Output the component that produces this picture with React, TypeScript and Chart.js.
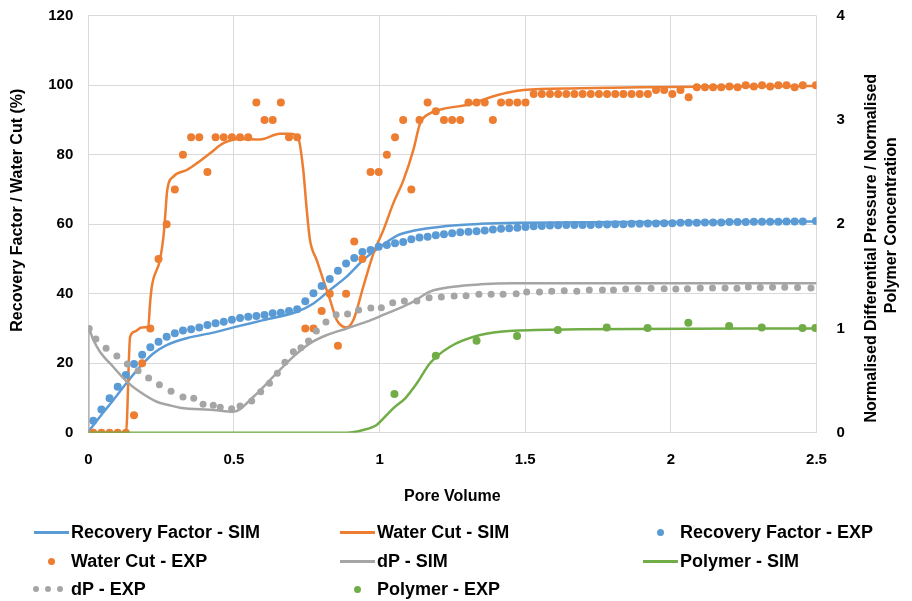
import React, { useEffect, useRef } from "react";
import { Chart, registerables } from "chart.js";

Chart.register(...registerables);

const FONT = '"Liberation Sans", Arial, sans-serif';
const BLUE = "#5B9BD5";
const ORANGE = "#ED7D31";
const GREY = "#A5A5A5";
const GREEN = "#70AD47";

// Tick labels
const xTicks = [0, 0.5, 1, 1.5, 2, 2.5];
const xTickLabels = ["0", "0.5", "1", "1.5", "2", "2.5"];
const yTicks = [0, 20, 40, 60, 80, 100, 120];
const y2Ticks = [0, 1, 2, 3, 4];

// Experimental sampling points (pore volume) for Recovery Factor / Water Cut
const expPV = [
  0.017, 0.045, 0.073, 0.101, 0.129, 0.157, 0.185, 0.213, 0.241, 0.269,
  0.297, 0.325, 0.353, 0.381, 0.409, 0.437, 0.465, 0.493, 0.521, 0.549,
  0.577, 0.605, 0.633, 0.661, 0.689, 0.717, 0.745, 0.773, 0.801, 0.829,
  0.857, 0.885, 0.913, 0.941, 0.969, 0.997, 1.025, 1.053, 1.081, 1.109,
  1.137, 1.165, 1.193, 1.221, 1.249, 1.277, 1.305, 1.333, 1.361, 1.389,
  1.417, 1.445, 1.473, 1.501, 1.529, 1.557, 1.585, 1.613, 1.641, 1.669,
  1.697, 1.725, 1.753, 1.781, 1.809, 1.837, 1.865, 1.893, 1.921, 1.949,
  1.977, 2.005, 2.033, 2.061, 2.089, 2.117, 2.145, 2.173, 2.201, 2.229,
  2.257, 2.285, 2.313, 2.341, 2.369, 2.397, 2.425, 2.453, 2.498,
];
const rfExp = [
  3.45, 6.7, 9.9, 13.25, 16.6, 19.8, 22.4, 24.6, 26.2, 27.6,
  28.6, 29.4, 29.8, 30.3, 31.0, 31.5, 31.95, 32.5, 33.0, 33.4,
  33.6, 33.9, 34.35, 34.5, 35.0, 35.5, 37.8, 40.1, 42.2, 44.2,
  46.6, 48.7, 50.3, 52.0, 52.6, 53.5, 54.0, 54.5, 54.9, 55.7,
  56.2, 56.4, 56.8, 57.1, 57.4, 57.7, 57.8, 58.0, 58.2, 58.5,
  58.7, 58.8, 59.0, 59.2, 59.4, 59.5, 59.6, 59.7, 59.8, 59.8,
  59.8, 59.8, 59.9, 59.9, 60.0, 60.0, 60.1, 60.1, 60.2, 60.2,
  60.3, 60.3, 60.4, 60.4, 60.4, 60.5, 60.5, 60.5, 60.6, 60.6,
  60.6, 60.7, 60.7, 60.7, 60.7, 60.8, 60.8, 60.8, 60.9,
];
const wcExp = [
  0, 0, 0, 0, 0, 5, 20, 30, 50, 60,
  70, 80, 85, 85, 75, 85, 85, 85, 85, 85,
  95, 90, 90, 95, 85, 85, 30, 30, 35, 40,
  25, 40, 55, 50, 75, 75, 80, 85, 90, 70,
  90, 95, 92.5, 90, 90, 90, 95, 95, 95, 90,
  95, 95, 95, 95, 97.5, 97.5, 97.5, 97.5, 97.5, 97.5,
  97.5, 97.5, 97.5, 97.5, 97.5, 97.5, 97.5, 97.5, 97.5, 98.6,
  98.6, 97.5, 98.6, 96.5, 99.4, 99.4, 99.4, 99.4, 99.6, 99.4,
  100, 99.6, 100, 99.6, 100, 100, 99.4, 100, 100,
];

// Simulated recovery factor
const rfSimPV = [0, 0.04, 0.086, 0.132, 0.178, 0.223, 0.269, 0.338, 0.429, 0.498, 0.601, 0.716, 0.773, 0.83, 0.887, 0.944, 1.002, 1.062, 1.116, 1.231, 1.345, 1.494, 1.8, 2.2, 2.5];
const rfSim = [0.3, 4.6, 9.4, 14.4, 19.0, 22.8, 25.2, 27.2, 28.8, 30.3, 32.4, 34.8, 37.2, 41.1, 44.9, 49.7, 53.5, 56.8, 58.1, 59.5, 60.1, 60.4, 60.6, 60.7, 60.8];

// Simulated water cut
const wcSimPV = [0, 0.1295, 0.1435, 0.16, 0.183, 0.206, 0.212, 0.218, 0.246, 0.258, 0.263, 0.271, 0.292, 0.338, 0.372, 0.418, 0.464, 0.521, 0.59, 0.658, 0.693, 0.721, 0.738, 0.75, 0.761, 0.784, 0.807, 0.83, 0.853, 0.887, 0.91, 0.944, 0.979, 1.013, 1.047, 1.082, 1.116, 1.139, 1.173, 1.231, 1.299, 1.368, 1.437, 1.494, 1.689, 1.9, 2.5];
const wcSim = [0, 0, 27.6, 29.1, 30.3, 30.5, 37.2, 42, 49.7, 56.4, 61.2, 69.8, 73.7, 75.6, 77.5, 80.4, 83.3, 84.5, 84.4, 86.0, 86.0, 84.7, 75.6, 64.1, 55.5, 49.7, 43.9, 38.2, 32.4, 30.3, 32.4, 42.0, 51.6, 58.3, 66.0, 72.7, 81.4, 89.0, 91.9, 93.4, 94.3, 96.2, 97.8, 98.6, 99.1, 99.4, 99.8];

// Simulated normalised differential pressure
const dpSimPV = [0, 0, 0.0172, 0.04, 0.086, 0.132, 0.178, 0.235, 0.275, 0.315, 0.429, 0.498, 0.567, 0.635, 0.704, 0.761, 0.819, 0.887, 0.956, 1.025, 1.065, 1.116, 1.173, 1.253, 1.345, 1.46, 2.5];
const dpSim = [0, 1.0, 0.889, 0.777, 0.63, 0.49, 0.39, 0.297, 0.266, 0.24, 0.218, 0.2, 0.345, 0.537, 0.73, 0.857, 0.937, 1.0, 1.065, 1.145, 1.19, 1.257, 1.353, 1.4, 1.423, 1.433, 1.433];

// Simulated normalised polymer concentration
const polySimPV = [0, 0.887, 0.944, 0.99, 1.002, 1.047, 1.088, 1.128, 1.173, 1.242, 1.345, 1.46, 1.689, 2.5];
const polySim = [0, 0, 0.026, 0.074, 0.105, 0.234, 0.33, 0.474, 0.666, 0.825, 0.937, 0.978, 0.992, 1.0];

// Experimental normalised differential pressure
const dpExpPV = [
  0.003, 0.026, 0.061, 0.098, 0.134, 0.171, 0.207, 0.244, 0.284, 0.325, 0.362,
  0.394, 0.429, 0.453, 0.492, 0.521, 0.561, 0.592, 0.622, 0.649, 0.675,
  0.704, 0.730, 0.756, 0.783, 0.816, 0.851, 0.890, 0.928, 0.970, 1.006, 1.045,
  1.085, 1.128, 1.170, 1.212, 1.256, 1.297, 1.341, 1.383, 1.424, 1.469,
  1.505, 1.549, 1.591, 1.634, 1.677, 1.720, 1.765, 1.803, 1.845, 1.887,
  1.932, 1.977, 2.017, 2.057, 2.101, 2.143, 2.186, 2.227, 2.266, 2.307,
  2.349, 2.391, 2.435, 2.481,
];
const dpExp = [
  1.0, 0.899, 0.81, 0.736, 0.659, 0.595, 0.525, 0.46, 0.397, 0.342, 0.33,
  0.272, 0.263, 0.244, 0.23, 0.256, 0.304, 0.393, 0.474, 0.57, 0.675,
  0.777, 0.815, 0.88, 0.976, 1.062, 1.132, 1.139, 1.177, 1.196, 1.199, 1.247,
  1.263, 1.263, 1.295, 1.302, 1.311, 1.314, 1.327, 1.327, 1.327, 1.333,
  1.35, 1.35, 1.357, 1.362, 1.357, 1.369, 1.369, 1.369, 1.378, 1.382,
  1.385, 1.382, 1.378, 1.382, 1.388, 1.388, 1.388, 1.385, 1.398, 1.392,
  1.395, 1.395, 1.392, 1.388,
];

// Experimental normalised polymer concentration
const polyExpPV = [1.051, 1.193, 1.333, 1.472, 1.612, 1.78, 1.92, 2.06, 2.2, 2.312, 2.452, 2.496];
const polyExp = [0.371, 0.739, 0.883, 0.927, 0.985, 1.01, 1.004, 1.055, 1.024, 1.01, 1.004, 1.004];

const pts = (xs: number[], ys: number[]) => xs.map((x, i) => ({ x, y: ys[i] }));

type LegendItem = { label: string; color: string; kind: "line" | "dot" | "dots"; col: number; row: number };
const legendItems: LegendItem[] = [
  { label: "Recovery Factor - SIM", color: BLUE, kind: "line", col: 0, row: 0 },
  { label: "Water Cut - SIM", color: ORANGE, kind: "line", col: 1, row: 0 },
  { label: "Recovery Factor - EXP", color: BLUE, kind: "dot", col: 2, row: 0 },
  { label: "Water Cut - EXP", color: ORANGE, kind: "dot", col: 0, row: 1 },
  { label: "dP - SIM", color: GREY, kind: "line", col: 1, row: 1 },
  { label: "Polymer - SIM", color: GREEN, kind: "line", col: 2, row: 1 },
  { label: "dP - EXP", color: GREY, kind: "dots", col: 0, row: 2 },
  { label: "Polymer - EXP", color: GREEN, kind: "dot", col: 1, row: 2 },
];
const legendColX = [34, 340, 643];
const legendRowY = [532, 561, 589];

const titlesPlugin = {
  id: "axisTitles",
  afterDraw(chart: any) {
    const { ctx, chartArea: a } = chart;
    ctx.save();
    ctx.fillStyle = "#000";
    ctx.font = `bold 16px ${FONT}`;
    ctx.textAlign = "center";
    ctx.textBaseline = "middle";
    const cy = (a.top + a.bottom) / 2;
    ctx.fillText("Pore Volume", (a.left + a.right) / 2, a.bottom + 64);
    ctx.save();
    ctx.translate(a.left - 71, cy - 14);
    ctx.rotate(-Math.PI / 2);
    ctx.fillText("Recovery Factor / Water Cut (%)", 0, 0);
    ctx.restore();
    ctx.save();
    ctx.translate(a.right + 55, cy + 24);
    ctx.rotate(-Math.PI / 2);
    ctx.fillText("Normalised Differential Pressure / Normalised", 0, 0);
    ctx.restore();
    ctx.save();
    ctx.translate(a.right + 75, cy + 1);
    ctx.rotate(-Math.PI / 2);
    ctx.fillText("Polymer Concentration", 0, 0);
    ctx.restore();
    ctx.restore();
  },
};

function simSet(label: string, data: any[], color: string, axis: string, order: number) {
  return {
    label,
    data,
    showLine: true,
    borderColor: color,
    backgroundColor: color,
    borderWidth: 2.5,
    pointRadius: 0,
    cubicInterpolationMode: "monotone" as const,
    fill: false,
    yAxisID: axis,
    order,
  };
}
function expSet(label: string, data: any[], color: string, axis: string, order: number, r = 4) {
  return {
    label,
    data,
    showLine: false,
    borderColor: color,
    backgroundColor: color,
    pointBackgroundColor: color,
    pointBorderWidth: 0,
    pointRadius: r,
    yAxisID: axis,
    order,
  };
}

export default function App() {
  const ref = useRef<HTMLCanvasElement>(null);
  useEffect(() => {
    if (!ref.current) return;
    const tickFont = { family: FONT, size: 15, weight: "bold" as const };
    const fitY = (w: number) => (s: any) => {
      s.width = w;
      s.paddingTop = 0;
      s.paddingBottom = 0;
    };
    const chart = new Chart(ref.current, {
      type: "scatter",
      data: {
        datasets: [
          simSet("Recovery Factor - SIM", pts(rfSimPV, rfSim), BLUE, "y", 8),
          simSet("Water Cut - SIM", pts(wcSimPV, wcSim), ORANGE, "y", 7),
          expSet("Recovery Factor - EXP", pts(expPV, rfExp), BLUE, "y", 6),
          expSet("Water Cut - EXP", pts(expPV, wcExp), ORANGE, "y", 5),
          simSet("dP - SIM", pts(dpSimPV, dpSim), GREY, "y2", 4),
          simSet("Polymer - SIM", pts(polySimPV, polySim), GREEN, "y2", 3),
          expSet("dP - EXP", pts(dpExpPV, dpExp), GREY, "y2", 2, 3.5),
          expSet("Polymer - EXP", pts(polyExpPV, polyExp), GREEN, "y2", 1),
        ] as any,
      },
      options: {
        responsive: false,
        animation: false,
        devicePixelRatio: 1,
        layout: { padding: { top: 15.7, bottom: 96.3, left: 0, right: 0 } },
        plugins: { legend: { display: false }, tooltip: { enabled: false }, title: { display: false } },
        scales: {
          x: {
            type: "linear",
            min: 0,
            max: 2.5,
            afterBuildTicks: (s: any) => { s.ticks = xTicks.map((v) => ({ value: v })); },
            afterFit: (s: any) => { s.height = 72; s.paddingLeft = 0; s.paddingRight = 0; },
            ticks: {
              font: tickFont,
              color: "#000",
              padding: 18,
              maxRotation: 0,
              callback: (_v: any, i: number) => xTickLabels[i],
            },
            grid: { color: "#D9D9D9", lineWidth: 1, drawTicks: false },
            border: { display: false },
          },
          y: {
            type: "linear",
            position: "left",
            min: 0,
            max: 120,
            afterBuildTicks: (s: any) => { s.ticks = yTicks.map((v) => ({ value: v })); },
            afterFit: fitY(88.3),
            ticks: { font: tickFont, color: "#000", padding: 15 },
            grid: { color: "#D9D9D9", lineWidth: 1, drawTicks: false },
            border: { display: false },
          },
          y2: {
            type: "linear",
            position: "right",
            min: 0,
            max: 4,
            afterBuildTicks: (s: any) => { s.ticks = y2Ticks.map((v) => ({ value: v })); },
            afterFit: fitY(95.5),
            ticks: { font: tickFont, color: "#000", padding: 20 },
            grid: { display: false, drawTicks: false },
            border: { display: false },
          },
        },
      } as any,
      plugins: [titlesPlugin],
    });
    return () => chart.destroy();
  }, []);

  return (
    <div style={{ position: "absolute", left: 0, top: 0, width: 912, height: 601, background: "#fff", fontFamily: FONT }}>
      <canvas ref={ref} width={912} height={601} style={{ position: "absolute", left: 0, top: 0, width: 912, height: 601 }} />
      {legendItems.map((it) => {
        const x = legendColX[it.col];
        const y = legendRowY[it.row];
        let sym: React.ReactNode = null;
        if (it.kind === "line") {
          sym = <div style={{ position: "absolute", left: x, top: y - 1.5, width: 35, height: 3, background: it.color }} />;
        } else if (it.kind === "dot") {
          sym = <div style={{ position: "absolute", left: x + 17.5 - 3.5, top: y - 3.5, width: 7, height: 7, borderRadius: "50%", background: it.color }} />;
        } else {
          sym = (
            <>
              {[0, 1, 2].map((k) => (
                <div key={k} style={{ position: "absolute", left: x + 2 + k * 12 - 3, top: y - 3, width: 6, height: 6, borderRadius: "50%", background: it.color }} />
              ))}
            </>
          );
        }
        return (
          <React.Fragment key={it.label}>
            {sym}
            <div style={{ position: "absolute", left: x + 37, top: y - 11, height: 22, lineHeight: "22px", fontSize: 18, fontWeight: "bold", color: "#000", whiteSpace: "nowrap" }}>
              {it.label}
            </div>
          </React.Fragment>
        );
      })}
    </div>
  );
}
